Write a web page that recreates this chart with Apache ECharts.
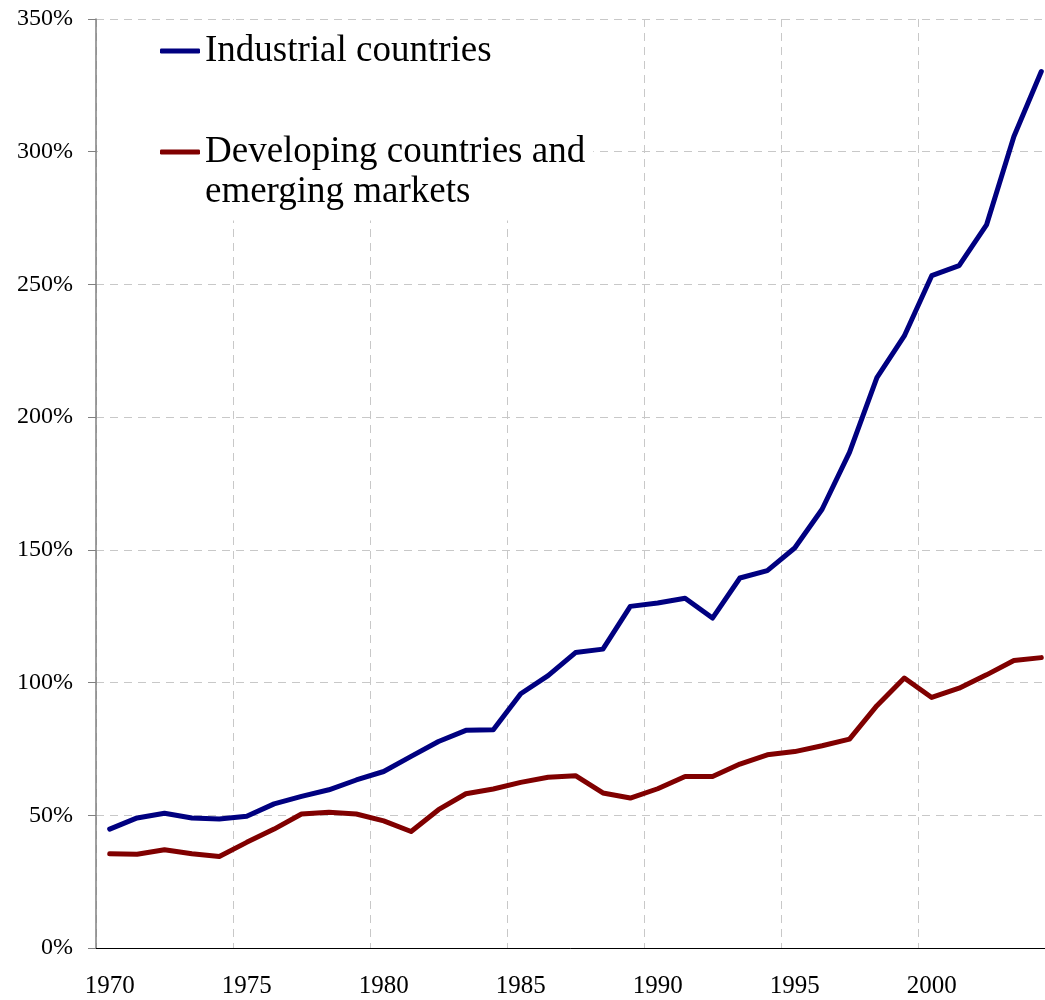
<!DOCTYPE html>
<html>
<head>
<meta charset="utf-8">
<script src="https://cdn.jsdelivr.net/npm/echarts@6/dist/echarts.min.js"></script>
<style>
	html, body { margin: 0; padding: 0; background: #fff; }
	#chart { width: 1045px; height: 1000px; }
</style>
</head>
<body>
<div id="chart"></div>
<script>
var years = ['1970', '1971', '1972', '1973', '1974', '1975', '1976', '1977', '1978', '1979',
	'1980', '1981', '1982', '1983', '1984', '1985', '1986', '1987', '1988', '1989',
	'1990', '1991', '1992', '1993', '1994', '1995', '1996', '1997', '1998', '1999',
	'2000', '2001', '2002', '2003', '2004'];

// percent values
var industrial = [44.8, 49.0, 50.8, 49.0, 48.6, 49.6, 54.3, 57.1, 59.6, 63.3,
	66.5, 72.2, 77.8, 82.0, 82.2, 95.8, 102.6, 111.3, 112.6, 128.7,
	130.0, 131.8, 124.3, 139.4, 142.2, 150.7, 165.3, 186.7, 214.9, 230.6,
	253.3, 257.1, 272.4, 305.7, 330.2];
var developing = [35.5, 35.3, 37.0, 35.5, 34.5, 39.8, 44.8, 50.5, 51.1, 50.5,
	47.9, 43.9, 52.1, 58.1, 59.9, 62.4, 64.3, 64.9, 58.4, 56.5,
	60.0, 64.6, 64.6, 69.3, 72.8, 74.0, 76.2, 78.7, 91.3, 101.7,
	94.4, 97.9, 102.9, 108.3, 109.4];

var seriesNames = ['Industrial countries', 'Developing countries and\nemerging markets'];
var seriesColors = ['#000080', '#800000'];

var serif = "'Liberation Serif', 'Times New Roman', serif";
var gridLine = { show: true, interval: 4, lineStyle: { color: '#c8c8c8', type: [8, 6], width: 1 } };

var myChart = echarts.init(document.getElementById('chart'));
myChart.setOption({
	animation: false,
	grid: {
		left: 96,
		width: 959,   // last year runs past the right edge, as in the original
		top: 19,
		bottom: 52,
		outerBoundsMode: 'none'
	},
	legend: {
		orient: 'vertical',
		left: 98,
		top: 20,
		padding: [11, 8, 10, 62],
		backgroundColor: '#fff',
		itemWidth: 40,
		itemHeight: 5,
		itemGap: 61,
		icon: 'roundRect',
		selectedMode: false,
		textStyle: {
			fontFamily: serif,
			fontSize: 37,
			lineHeight: 40,
			color: '#000',
			rich: { t: { fontFamily: serif, fontSize: 37, lineHeight: 40 } }
		},
		data: [
			{ name: seriesNames[0] },
			// keep the icon on the first line of the two-line label
			{ name: seriesNames[1], textStyle: { padding: [0, 0, -40, 0] } }
		]
	},
	xAxis: {
		type: 'category',
		data: years,
		boundaryGap: true,
		axisLine: { lineStyle: { color: '#000', width: 1 } },
		axisTick: { interval: 4, length: 9, lineStyle: { color: '#000' } },
		axisLabel: {
			interval: 4,
			margin: 26,
			fontFamily: serif,
			fontSize: 25,
			color: '#000'
		},
		splitLine: gridLine
	},
	yAxis: {
		type: 'value',
		min: 0,
		max: 350,
		interval: 50,
		axisLine: { show: true, lineStyle: { color: '#808080', width: 1.5 } },
		axisTick: { show: true, length: 8, lineStyle: { color: '#808080' } },
		axisLabel: {
			margin: 23,
			fontFamily: serif,
			fontSize: 24,
			color: '#000',
			formatter: '{value}%'
		},
		splitLine: { show: true, lineStyle: gridLine.lineStyle }
	},
	series: [
		{
			name: seriesNames[0],
			type: 'line',
			symbol: 'none',
			color: seriesColors[0],
			lineStyle: { width: 5, join: 'round', cap: 'round' },
			data: industrial
		},
		{
			name: seriesNames[1],
			type: 'line',
			symbol: 'none',
			color: seriesColors[1],
			lineStyle: { width: 5, join: 'round', cap: 'round' },
			data: developing
		}
	]
});
</script>
</body>
</html>
